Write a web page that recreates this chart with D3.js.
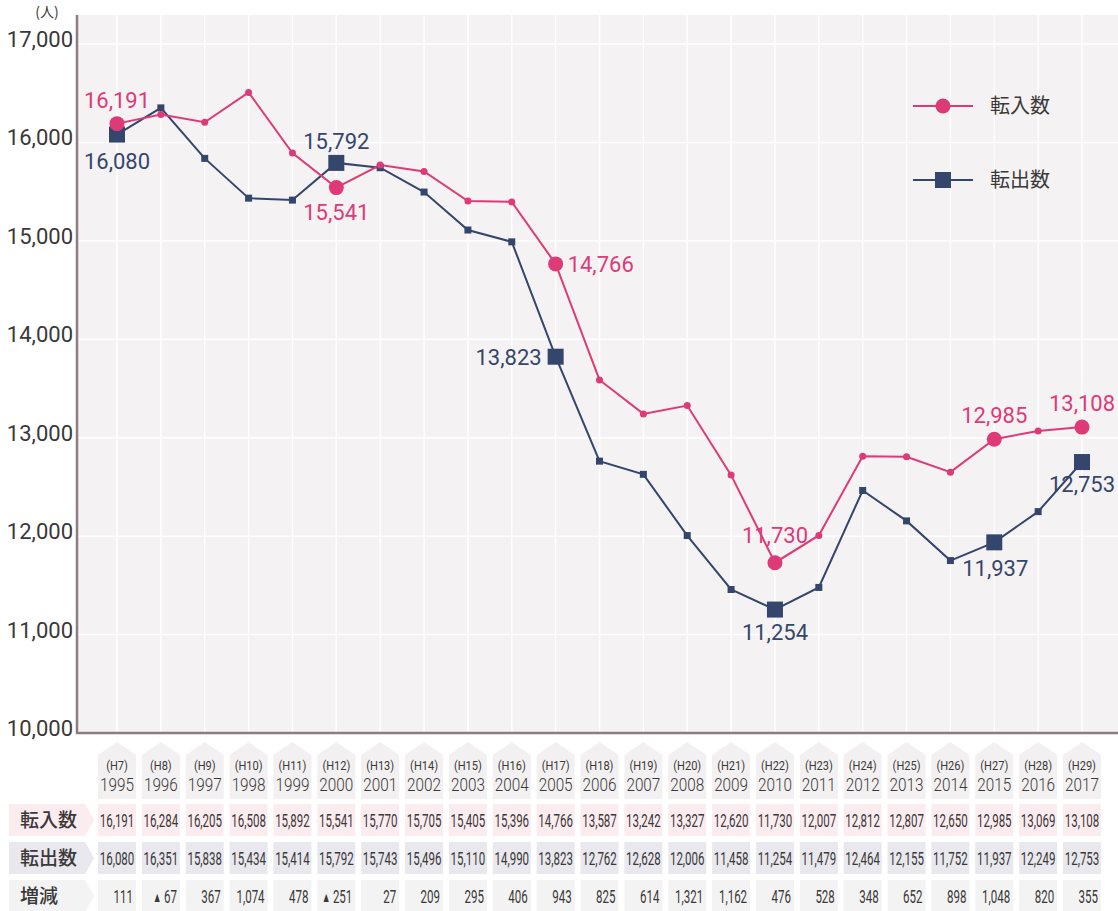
<!DOCTYPE html>
<html>
<head>
<meta charset="utf-8">
<script src="https://cdn.jsdelivr.net/npm/d3@7"></script>
<style>
  body { margin: 0; background: #fff; }
  svg text { font-family: Roboto, "Noto Sans", sans-serif; }
  .jp { font-family: "Noto Sans CJK JP", sans-serif; }
</style>
</head>
<body>
<svg id="paper"></svg>
<script>
// data
const years = [1995, 1996, 1997, 1998, 1999, 2000, 2001, 2002, 2003, 2004, 2005, 2006,
  2007, 2008, 2009, 2010, 2011, 2012, 2013, 2014, 2015, 2016, 2017];
const heisei = ["H7", "H8", "H9", "H10", "H11", "H12", "H13", "H14", "H15", "H16", "H17", "H18",
  "H19", "H20", "H21", "H22", "H23", "H24", "H25", "H26", "H27", "H28", "H29"];
const tennyu = [16191, 16284, 16205, 16508, 15892, 15541, 15770, 15705, 15405, 15396, 14766, 13587,
  13242, 13327, 12620, 11730, 12007, 12812, 12807, 12650, 12985, 13069, 13108];
const tenshutsu = [16080, 16351, 15838, 15434, 15414, 15792, 15743, 15496, 15110, 14990, 13823, 12762,
  12628, 12006, 11458, 11254, 11479, 12464, 12155, 11752, 11937, 12249, 12753];
const zougen = [111, -67, 367, 1074, 478, -251, 27, 209, 295, 406, 943, 825,
  614, 1321, 1162, 476, 528, 348, 652, 898, 1048, 820, 355];
const yTicks = [10000, 11000, 12000, 13000, 14000, 15000, 16000, 17000];
const bigYears = [1995, 2000, 2005, 2010, 2015, 2017];
const seriesNames = ["転入数", "転出数"];
const rowNames = ["転入数", "転出数", "増減"];

// label placement (style only)
const inLabelPos = {1995: [0, -16, "middle"], 2000: [0, 32, "middle"], 2005: [12, 8, "start"],
  2010: [0, -20, "middle"], 2015: [0, -16, "middle"], 2017: [0, -16, "middle"]};
const outLabelPos = {1995: [0, 34, "middle"], 2000: [0, -14, "middle"], 2005: [-14, 8, "end"],
  2010: [0, 30, "middle"], 2015: [1, 34, "middle"], 2017: [0, 30, "middle"]};

const W = 1118, H = 911;
const pink = "#de3a78", navy = "#34466b", axisCol = "#8d7c82", txt = "#3b3838";
const fmt = d3.format(",");

const svg = d3.select("#paper").attr("width", W).attr("height", H);

const x = d3.scaleLinear().domain([1995, 2017]).range([117, 1082]);
const y = d3.scaleLinear().domain([10000, 17000]).range([733, 44]);

// plot background
svg.append("rect")
  .attr("x", 78).attr("y", 15)
  .attr("width", W - 78).attr("height", 733 - 15)
  .attr("fill", "#f4f2f3");

// gridlines
svg.append("g").selectAll("line")
  .data(yTicks.slice(1))
  .enter().append("line")
  .attr("x1", 78).attr("x2", W)
  .attr("y1", (d) => y(d)).attr("y2", (d) => y(d))
  .attr("stroke", "#fff").attr("stroke-width", 1.5);

svg.append("g").selectAll("line")
  .data(years)
  .enter().append("line")
  .attr("x1", (d) => x(d)).attr("x2", (d) => x(d))
  .attr("y1", 15).attr("y2", 733)
  .attr("stroke", "#fff").attr("stroke-width", 1.5);

// axes lines
svg.append("line").attr("x1", 77).attr("x2", 77).attr("y1", 15).attr("y2", 734)
  .attr("stroke", axisCol).attr("stroke-width", 2.5);
svg.append("line").attr("x1", 76).attr("x2", W).attr("y1", 733).attr("y2", 733)
  .attr("stroke", axisCol).attr("stroke-width", 2.5);

// y tick labels
svg.append("g").selectAll("text")
  .data(yTicks)
  .enter().append("text")
  .attr("x", 73).attr("y", (d) => y(d) + 3)
  .attr("text-anchor", "end")
  .attr("font-size", 22)
  .attr("fill", txt)
  .text((d) => fmt(d));

svg.append("text").attr("class", "jp")
  .attr("x", 47).attr("y", 17)
  .attr("text-anchor", "middle").attr("font-size", 14).attr("fill", txt)
  .text("(人)");

// lines
const line = d3.line().x((d) => x(d[0])).y((d) => y(d[1]));
const inPts = years.map((yr, i) => [yr, tennyu[i]]);
const outPts = years.map((yr, i) => [yr, tenshutsu[i]]);

svg.append("path").datum(outPts).attr("d", line)
  .attr("fill", "none").attr("stroke", navy).attr("stroke-width", 2);
svg.append("path").datum(inPts).attr("d", line)
  .attr("fill", "none").attr("stroke", pink).attr("stroke-width", 2);

// markers: squares (out)
const sz = (d) => bigYears.includes(d[0]) ? 16 : 7;
svg.append("g").selectAll("rect")
  .data(outPts)
  .enter().append("rect")
  .attr("width", sz).attr("height", sz)
  .attr("x", (d) => x(d[0]) - sz(d) / 2)
  .attr("y", (d) => y(d[1]) - sz(d) / 2)
  .attr("fill", navy);

// markers: circles (in)
svg.append("g").selectAll("circle")
  .data(inPts)
  .enter().append("circle")
  .attr("cx", (d) => x(d[0])).attr("cy", (d) => y(d[1]))
  .attr("r", (d) => bigYears.includes(d[0]) ? 7.5 : 3.5)
  .attr("fill", pink);

// value labels
svg.append("g").selectAll("text")
  .data(inPts.filter((d) => bigYears.includes(d[0])))
  .enter().append("text")
  .attr("x", (d) => x(d[0]) + inLabelPos[d[0]][0])
  .attr("y", (d) => y(d[1]) + inLabelPos[d[0]][1])
  .attr("text-anchor", (d) => inLabelPos[d[0]][2])
  .attr("font-size", 22).attr("fill", pink)
  .text((d) => fmt(d[1]));

svg.append("g").selectAll("text")
  .data(outPts.filter((d) => bigYears.includes(d[0])))
  .enter().append("text")
  .attr("x", (d) => x(d[0]) + outLabelPos[d[0]][0])
  .attr("y", (d) => y(d[1]) + outLabelPos[d[0]][1])
  .attr("text-anchor", (d) => outLabelPos[d[0]][2])
  .attr("font-size", 22).attr("fill", navy)
  .text((d) => fmt(d[1]));

// legend
const legend = svg.append("g");
seriesNames.forEach((name, i) => {
  const ly = 106 + i * 74;
  const col = i === 0 ? pink : navy;
  legend.append("line").attr("x1", 913).attr("x2", 973).attr("y1", ly).attr("y2", ly)
    .attr("stroke", col).attr("stroke-width", 2);
  if (i === 0) {
    legend.append("circle").attr("cx", 943).attr("cy", ly).attr("r", 7.5).attr("fill", col);
  } else {
    legend.append("rect").attr("x", 935).attr("y", ly - 8).attr("width", 16).attr("height", 16).attr("fill", col);
  }
  legend.append("text").attr("class", "jp")
    .attr("x", 990).attr("y", ly + 7)
    .attr("font-size", 20).attr("fill", txt)
    .text(name);
});

// table
const table = svg.append("g");
const cw = 38;

// header pentagons
const head = table.selectAll("g.head")
  .data(years)
  .enter().append("g");
head.append("path")
  .attr("d", (d) => {
    const cx = x(d);
    return `M${cx - cw / 2},755 L${cx},742 L${cx + cw / 2},755 L${cx + cw / 2},799 L${cx - cw / 2},799 Z`;
  })
  .attr("fill", "#f2f0f1");
head.append("text")
  .attr("transform", (d) => `translate(${x(d)},770) scale(0.85,1)`)
  .attr("text-anchor", "middle").attr("font-size", 13).attr("fill", txt)
  .text((d, i) => "(" + heisei[i] + ")");
head.append("text")
  .attr("transform", (d) => `translate(${x(d)},791) scale(0.85,1)`)
  .attr("text-anchor", "middle").attr("font-size", 18).attr("font-weight", 300).attr("fill", txt)
  .text((d) => d);

const rows = [
  {vals: tennyu, top: 804, bg: "#fbecf0"},
  {vals: tenshutsu, top: 842, bg: "#e8e8ee"},
  {vals: zougen, top: 880, bg: "#f4f3f3"},
];

rows.forEach((row, r) => {
  const h = 32;
  table.append("path")
    .attr("d", `M9,${row.top} L85,${row.top} L94,${row.top + h / 2} L85,${row.top + h} L9,${row.top + h} Z`)
    .attr("fill", row.bg);
  table.append("text").attr("class", "jp")
    .attr("x", 20).attr("y", row.top + h / 2 + 7)
    .attr("font-size", 19).attr("font-weight", 500).attr("fill", txt)
    .text(rowNames[r]);
  table.append("g").selectAll("rect")
    .data(years)
    .enter().append("rect")
    .attr("x", (d) => x(d) - cw / 2).attr("y", row.top)
    .attr("width", cw).attr("height", h)
    .attr("fill", row.bg);
  const t = table.append("g").selectAll("text")
    .data(row.vals)
    .enter().append("text")
    .attr("transform", (d, i) => {
      const tx = r === 2 ? x(years[i]) + cw / 2 - 3 : x(years[i]);
      return `translate(${tx},${row.top + h / 2 + 6.5}) scale(0.64,1)`;
    })
    .attr("text-anchor", r === 2 ? "end" : "middle")
    .attr("font-size", 18).attr("fill", txt);
  t.filter((d) => d < 0).append("tspan")
    .attr("font-size", 14).attr("dy", -1)
    .text("▲ ");
  t.append("tspan")
    .attr("dy", (d) => d < 0 ? 1 : 0)
    .text((d) => fmt(Math.abs(d)));
});
</script>
</body>
</html>
